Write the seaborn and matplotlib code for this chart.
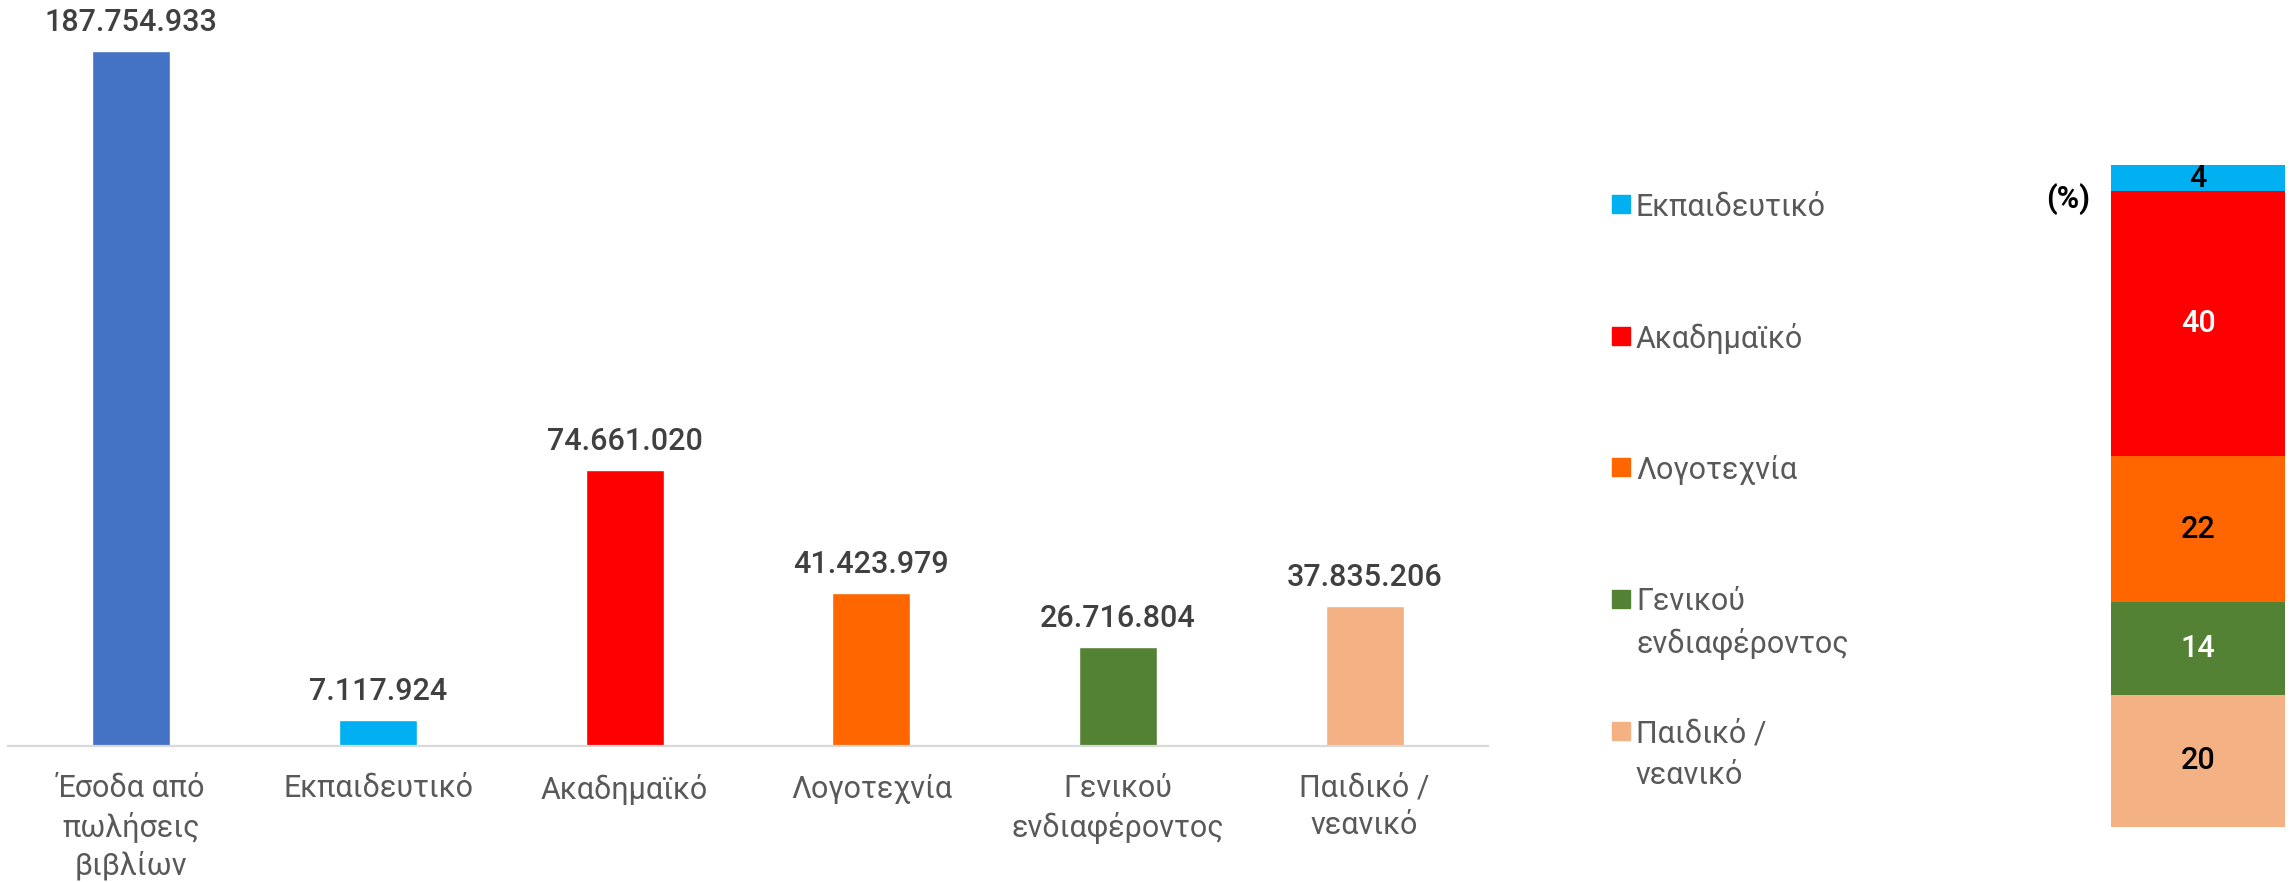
import matplotlib
matplotlib.use("Agg")
import matplotlib.pyplot as plt
from matplotlib.patches import Rectangle
import seaborn as sns
import pandas as pd

# Δεδομένα
kategories = ["Έσοδα από\nπωλήσεις\nβιβλίων", "Εκπαιδευτικό", "Ακαδημαϊκό",
              "Λογοτεχνία", "Γενικού\nενδιαφέροντος", "Παιδικό /\nνεανικό"]
esoda = [187754933, 7117924, 74661020, 41423979, 26716804, 37835206]
xromata = ["#4472C4", "#00B0F0", "#FF0000", "#FF6600", "#548235", "#F4B183"]

# δεξί διάγραμμα: ποσοστά ανά κατηγορία (από πάνω προς τα κάτω)
kat_pososta = ["Εκπαιδευτικό", "Ακαδημαϊκό", "Λογοτεχνία",
               "Γενικού\nενδιαφέροντος", "Παιδικό /\nνεανικό"]
pososta = [4, 40, 22, 14, 20]
xromata_pososta = ["#00B0F0", "#FF0000", "#FF6600", "#548235", "#F4B183"]
xromata_etiketas = ["black", "white", "black", "white", "black"]

sns.set_style("white")
plt.rcParams['font.family'] = ['Roboto', 'DejaVu Sans']

W, H = 2290, 882
fig = plt.figure(figsize=(W / 100, H / 100), dpi=100)

# ---- αριστερό διάγραμμα ----
ax = fig.add_axes([8 / W, 1 - 746 / H, 1480 / W, 746 / H])
df = pd.DataFrame({"kat": kategories, "timi": esoda})
sns.barplot(data=df, x="kat", y="timi", hue="kat", palette=xromata,
            legend=False, width=0.316, saturation=1, ax=ax)
ax.set_xlim(-0.5, 5.5)
ax.set_ylim(0, 201.6e6)
ax.set_xlabel("")
ax.set_ylabel("")
ax.set_yticks([])
for s in ["top", "left", "right"]:
    ax.spines[s].set_visible(False)
ax.spines["bottom"].set_color("#D9D9D9")
ax.spines["bottom"].set_linewidth(1.6)
ax.tick_params(axis="x", length=0, pad=20, labelsize=22, labelcolor="#595959")
plt.setp(ax.get_xticklabels(), linespacing=1.35)

for p, v in zip(ax.patches, esoda):
    ax.annotate(f"{v:,}".replace(",", "."),
                (p.get_x() + p.get_width() / 2, p.get_height()),
                xytext=(0, 10), textcoords="offset points",
                ha="center", va="bottom", fontsize=22, fontweight="medium",
                color="#404040")

# ---- δεξί διάγραμμα (στοιβαγμένη στήλη) ----
ax2 = fig.add_axes([2111 / W, 1 - 827 / H, 174 / W, 662 / H])
bottom = 0
for kat, val, c, tc in reversed(list(zip(kat_pososta, pososta, xromata_pososta, xromata_etiketas))):
    ax2.bar(0, val, bottom=bottom, width=1, color=c, linewidth=0)
    ax2.text(0, bottom + val / 2, str(val), ha="center", va="center",
             fontsize=22, fontweight="medium", color=tc)
    bottom += val
ax2.set_xlim(-0.5, 0.5)
ax2.set_ylim(0, 100)
ax2.axis("off")
ax2.text(-0.12, 0.948, "(%)", transform=ax2.transAxes, ha="right", va="center",
         fontsize=22, fontweight="bold", color="black")

# ---- υπόμνημα ----
kentra = [204, 336, 467, 599, 731]
for kat, c, yc in zip(kat_pososta, xromata_pososta, kentra):
    fig.patches.append(Rectangle((1612 / W, 1 - (yc + 9) / H), 18 / W, 18 / H,
                                 transform=fig.transFigure, color=c))
    for i, line in enumerate(kat.split("\n")):
        fig.text(1636 / W, 1 - (yc + i * 41) / H, line, ha="left", va="center_baseline",
                 fontsize=22, color="#595959")

plt.savefig("out.png", dpi=100)
plt.close()
